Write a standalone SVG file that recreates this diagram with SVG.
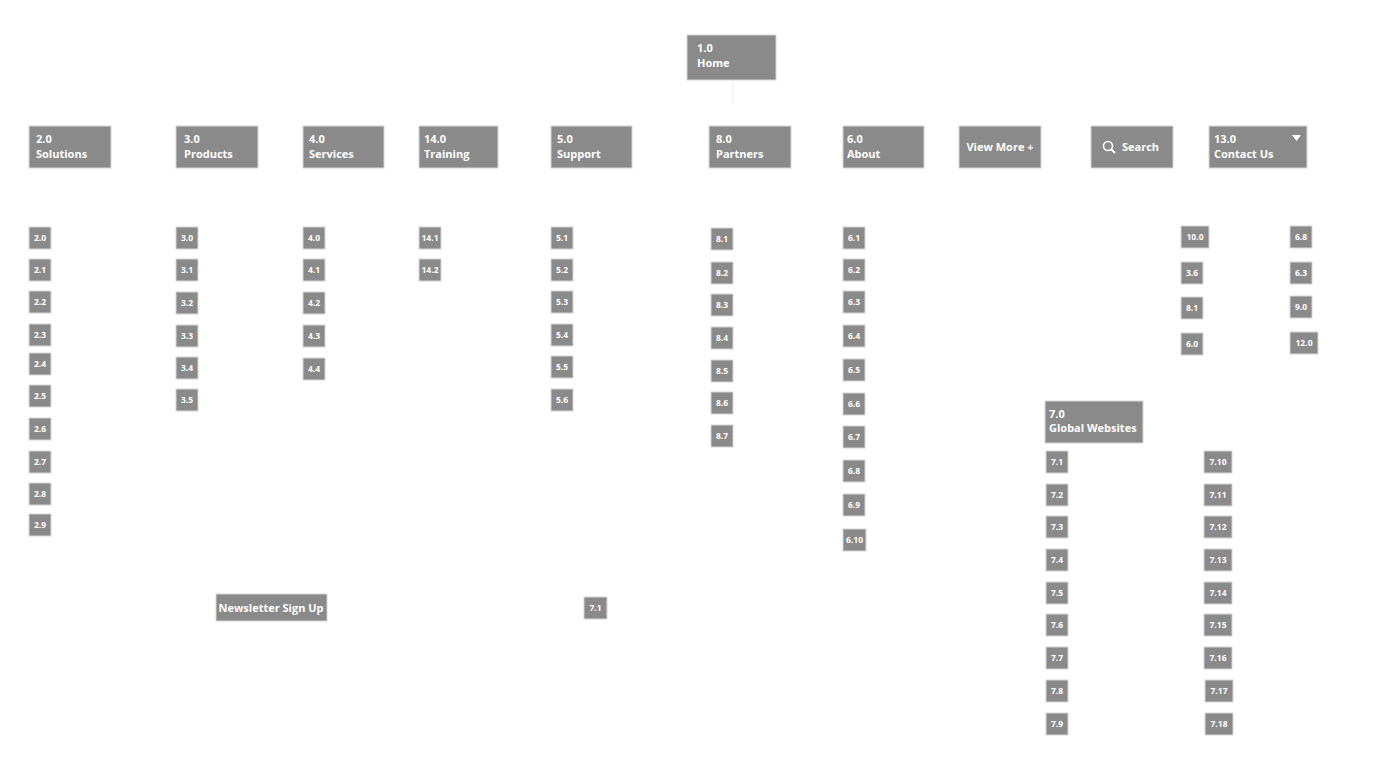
<svg xmlns="http://www.w3.org/2000/svg" width="1400" height="777" viewBox="0 0 1400 777">
<style>
rect{fill:#8a8a8a;stroke:#d6d6d6;stroke-width:1}
text{fill:#fff;font-family:"Open Sans","DejaVu Sans",sans-serif;font-weight:bold;font-size:11px}
.s{font-size:8.5px;text-anchor:middle}
.c{text-anchor:middle}
</style>
<rect x="0" y="0" width="1400" height="777" style="fill:#fff;stroke:none"/>
<g id="connectors"><line x1="733" y1="80" x2="733" y2="103" stroke="#eeeeee" stroke-width="1"/></g>
<g id="n1"><rect x="687" y="35" width="89" height="45"/><text x="697" y="52">1.0</text><text x="697" y="67">Home</text></g>
<g id="n2"><rect x="29" y="126" width="82" height="42"/><text x="36" y="143">2.0</text><text x="36" y="158">Solutions</text></g>
<g id="n3"><rect x="176" y="126" width="82" height="42"/><text x="184" y="143">3.0</text><text x="184" y="158">Products</text></g>
<g id="n4"><rect x="303" y="126" width="81" height="42"/><text x="309" y="143">4.0</text><text x="309" y="158">Services</text></g>
<g id="n14"><rect x="419" y="126" width="79" height="42"/><text x="424" y="143">14.0</text><text x="424" y="158">Training</text></g>
<g id="n5"><rect x="551" y="126" width="81" height="42"/><text x="557" y="143">5.0</text><text x="557" y="158">Support</text></g>
<g id="n8"><rect x="709" y="126" width="82" height="42"/><text x="716" y="143">8.0</text><text x="716" y="158">Partners</text></g>
<g id="n6"><rect x="843" y="126" width="81" height="42"/><text x="847" y="143">6.0</text><text x="847" y="158">About</text></g>
<g id="nmore"><rect x="959" y="126" width="82" height="42"/><text x="1000" y="151" class="c">View More +</text></g>
<g id="nsearch"><rect x="1091" y="126" width="82" height="42"/><circle cx="1108" cy="146" r="4.5" fill="none" stroke="#fff" stroke-width="1.6"/><line x1="1111" y1="149" x2="1115" y2="153" stroke="#fff" stroke-width="2"/><text x="1122" y="151">Search</text></g>
<g id="n13"><rect x="1209" y="126" width="98" height="42"/><text x="1214" y="143">13.0</text><text x="1214" y="158">Contact Us</text><polygon points="1292,135 1301,135 1296.5,141" fill="#fff"/></g>
<g id="n7"><rect x="1045" y="401" width="98" height="42"/><text x="1049" y="418">7.0</text><text x="1049" y="432">Global Websites</text></g>
<g id="nnews"><rect x="216" y="594" width="111" height="27"/><text x="271" y="612" class="c">Newsletter Sign Up</text></g>
<g id="n7_1b"><rect x="584" y="597" width="23" height="22"/><text x="595.5" y="611" class="s">7.1</text></g>
<g id="leaves">
<g id="c2">
<rect x="29" y="227" width="22" height="22"/><text x="40" y="241" class="s">2.0</text>
<rect x="29" y="259" width="22" height="22"/><text x="40" y="273" class="s">2.1</text>
<rect x="29" y="291" width="22" height="22"/><text x="40" y="305" class="s">2.2</text>
<rect x="29" y="324" width="22" height="22"/><text x="40" y="338" class="s">2.3</text>
<rect x="29" y="353" width="22" height="22"/><text x="40" y="367" class="s">2.4</text>
<rect x="29" y="385" width="22" height="22"/><text x="40" y="399" class="s">2.5</text>
<rect x="29" y="418" width="22" height="22"/><text x="40" y="432" class="s">2.6</text>
<rect x="29" y="451" width="22" height="22"/><text x="40" y="465" class="s">2.7</text>
<rect x="29" y="483" width="22" height="22"/><text x="40" y="497" class="s">2.8</text>
<rect x="29" y="514" width="22" height="22"/><text x="40" y="528" class="s">2.9</text>
</g>
<g id="c3">
<rect x="176" y="227" width="22" height="22"/><text x="187" y="241" class="s">3.0</text>
<rect x="176" y="259" width="22" height="22"/><text x="187" y="273" class="s">3.1</text>
<rect x="176" y="292" width="22" height="22"/><text x="187" y="306" class="s">3.2</text>
<rect x="176" y="325" width="22" height="22"/><text x="187" y="339" class="s">3.3</text>
<rect x="176" y="357" width="22" height="22"/><text x="187" y="371" class="s">3.4</text>
<rect x="176" y="389" width="22" height="22"/><text x="187" y="403" class="s">3.5</text>
</g>
<g id="c4">
<rect x="303" y="227" width="22" height="22"/><text x="314" y="241" class="s">4.0</text>
<rect x="303" y="259" width="22" height="22"/><text x="314" y="273" class="s">4.1</text>
<rect x="303" y="292" width="22" height="22"/><text x="314" y="306" class="s">4.2</text>
<rect x="303" y="325" width="22" height="22"/><text x="314" y="339" class="s">4.3</text>
<rect x="303" y="358" width="22" height="22"/><text x="314" y="372" class="s">4.4</text>
</g>
<g id="c14">
<rect x="419" y="227" width="22" height="22"/><text x="430" y="241" class="s">14.1</text>
<rect x="419" y="259" width="22" height="22"/><text x="430" y="273" class="s">14.2</text>
</g>
<g id="c5">
<rect x="551" y="227" width="22" height="22"/><text x="562" y="241" class="s">5.1</text>
<rect x="551" y="259" width="22" height="22"/><text x="562" y="273" class="s">5.2</text>
<rect x="551" y="291" width="22" height="22"/><text x="562" y="305" class="s">5.3</text>
<rect x="551" y="324" width="22" height="22"/><text x="562" y="338" class="s">5.4</text>
<rect x="551" y="356" width="22" height="22"/><text x="562" y="370" class="s">5.5</text>
<rect x="551" y="389" width="22" height="22"/><text x="562" y="403" class="s">5.6</text>
</g>
<g id="c8">
<rect x="711" y="228" width="22" height="22"/><text x="722" y="242" class="s">8.1</text>
<rect x="711" y="262" width="22" height="22"/><text x="722" y="276" class="s">8.2</text>
<rect x="711" y="294" width="22" height="22"/><text x="722" y="308" class="s">8.3</text>
<rect x="711" y="327" width="22" height="22"/><text x="722" y="341" class="s">8.4</text>
<rect x="711" y="360" width="22" height="22"/><text x="722" y="374" class="s">8.5</text>
<rect x="711" y="392" width="22" height="22"/><text x="722" y="406" class="s">8.6</text>
<rect x="711" y="425" width="22" height="22"/><text x="722" y="439" class="s">8.7</text>
</g>
<g id="c6">
<rect x="843" y="227" width="22" height="22"/><text x="854" y="241" class="s">6.1</text>
<rect x="843" y="259" width="22" height="22"/><text x="854" y="273" class="s">6.2</text>
<rect x="843" y="291" width="22" height="22"/><text x="854" y="305" class="s">6.3</text>
<rect x="843" y="325" width="22" height="22"/><text x="854" y="339" class="s">6.4</text>
<rect x="843" y="359" width="22" height="22"/><text x="854" y="373" class="s">6.5</text>
<rect x="843" y="393" width="22" height="22"/><text x="854" y="407" class="s">6.6</text>
<rect x="843" y="426" width="22" height="22"/><text x="854" y="440" class="s">6.7</text>
<rect x="843" y="460" width="22" height="22"/><text x="854" y="474" class="s">6.8</text>
<rect x="843" y="494" width="22" height="22"/><text x="854" y="508" class="s">6.9</text>
<rect x="843" y="529" width="23" height="22"/><text x="854.5" y="543" class="s">6.10</text>
</g>
<g id="c13a">
<rect x="1181" y="226" width="28" height="22"/><text x="1195" y="240" class="s">10.0</text>
<rect x="1181" y="262" width="22" height="22"/><text x="1192" y="276" class="s">3.6</text>
<rect x="1181" y="297" width="22" height="22"/><text x="1192" y="311" class="s">8.1</text>
<rect x="1181" y="333" width="22" height="22"/><text x="1192" y="347" class="s">6.0</text>
</g>
<g id="c13b">
<rect x="1290" y="226" width="22" height="22"/><text x="1301" y="240" class="s">6.8</text>
<rect x="1290" y="262" width="22" height="22"/><text x="1301" y="276" class="s">6.3</text>
<rect x="1290" y="296" width="22" height="22"/><text x="1301" y="310" class="s">9.0</text>
<rect x="1290" y="332" width="28" height="22"/><text x="1304" y="346" class="s">12.0</text>
</g>
<g id="c7a">
<rect x="1046" y="451" width="22" height="22"/><text x="1057" y="465" class="s">7.1</text>
<rect x="1046" y="484" width="22" height="22"/><text x="1057" y="498" class="s">7.2</text>
<rect x="1046" y="516" width="22" height="22"/><text x="1057" y="530" class="s">7.3</text>
<rect x="1046" y="549" width="22" height="22"/><text x="1057" y="563" class="s">7.4</text>
<rect x="1046" y="582" width="22" height="22"/><text x="1057" y="596" class="s">7.5</text>
<rect x="1046" y="614" width="22" height="22"/><text x="1057" y="628" class="s">7.6</text>
<rect x="1046" y="647" width="22" height="22"/><text x="1057" y="661" class="s">7.7</text>
<rect x="1046" y="680" width="22" height="22"/><text x="1057" y="694" class="s">7.8</text>
<rect x="1046" y="713" width="22" height="22"/><text x="1057" y="727" class="s">7.9</text>
</g>
<g id="c7b">
<rect x="1204" y="451" width="28" height="22"/><text x="1218" y="465" class="s">7.10</text>
<rect x="1204" y="484" width="28" height="22"/><text x="1218" y="498" class="s">7.11</text>
<rect x="1204" y="516" width="28" height="22"/><text x="1218" y="530" class="s">7.12</text>
<rect x="1204" y="549" width="28" height="22"/><text x="1218" y="563" class="s">7.13</text>
<rect x="1204" y="582" width="28" height="22"/><text x="1218" y="596" class="s">7.14</text>
<rect x="1204" y="614" width="28" height="22"/><text x="1218" y="628" class="s">7.15</text>
<rect x="1204" y="647" width="28" height="22"/><text x="1218" y="661" class="s">7.16</text>
<rect x="1205" y="680" width="28" height="22"/><text x="1219" y="694" class="s">7.17</text>
<rect x="1205" y="713" width="28" height="22"/><text x="1219" y="727" class="s">7.18</text>
</g>
</g>
</svg>
